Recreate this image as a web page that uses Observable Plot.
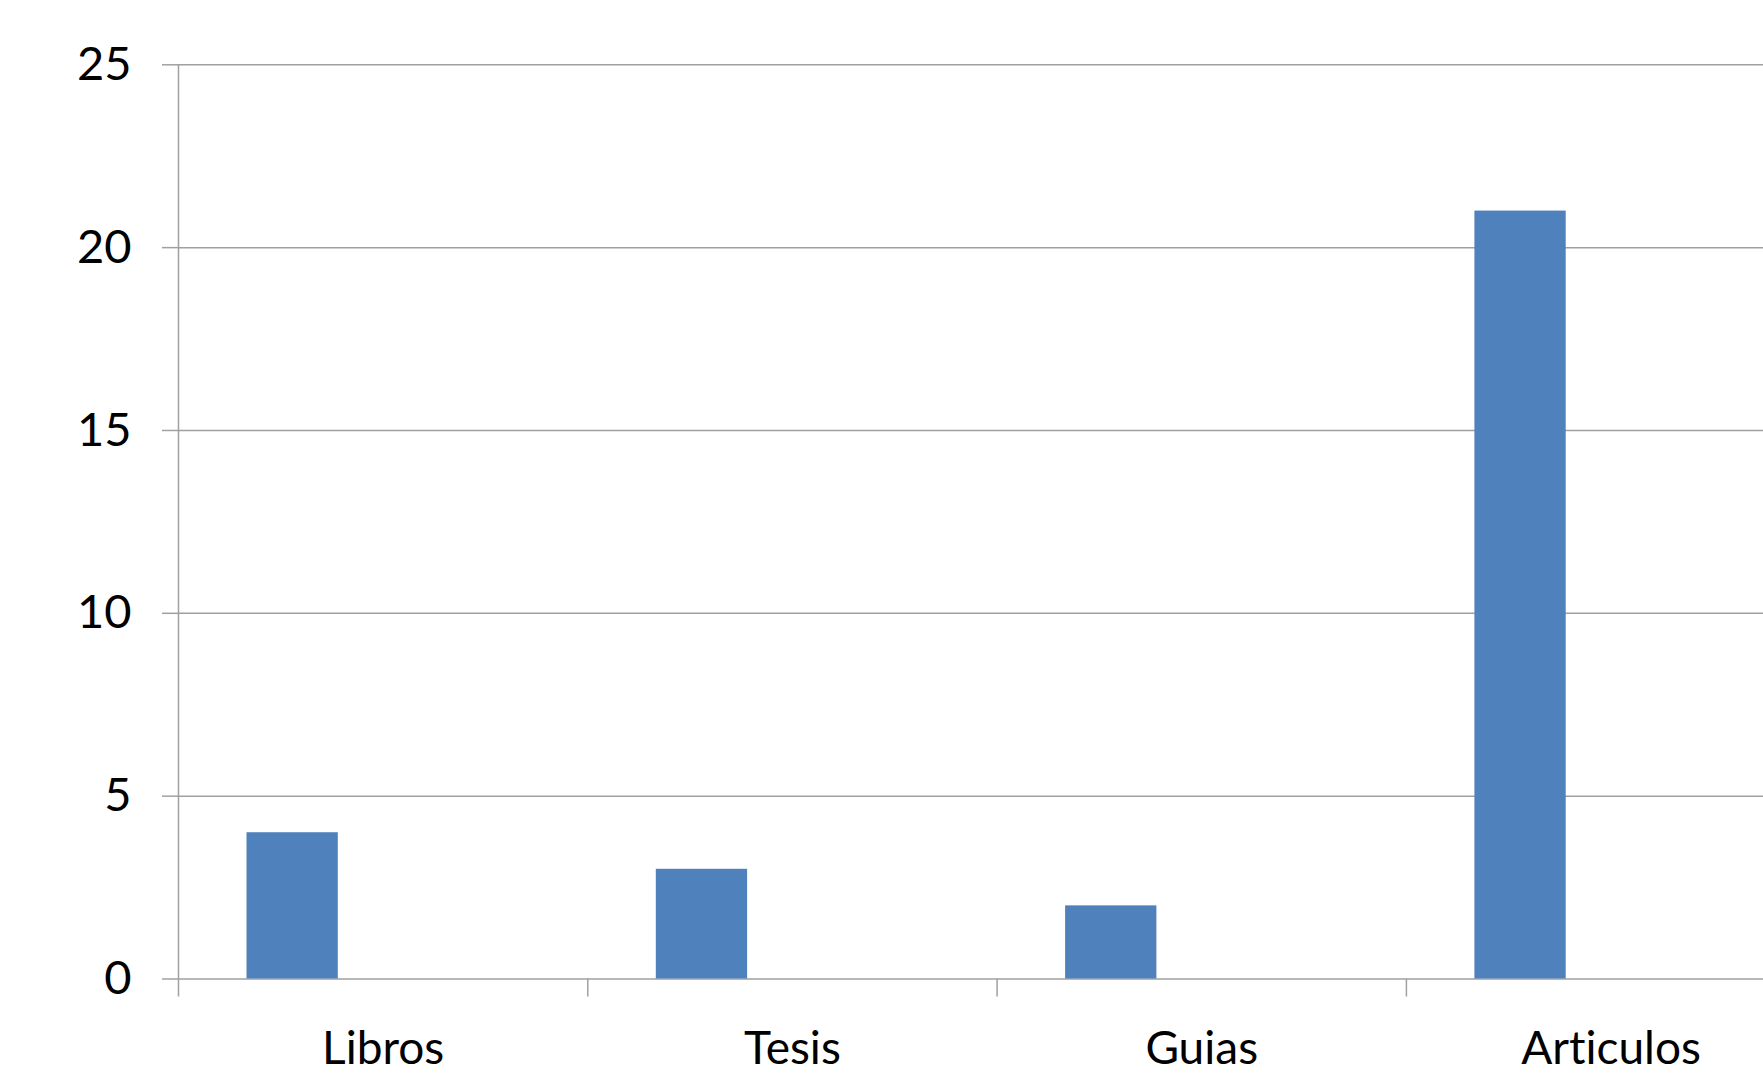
<!DOCTYPE html>
<html>
<head>
<meta charset="utf-8">
<script src="https://cdn.jsdelivr.net/npm/d3@7"></script>
<script src="https://cdn.jsdelivr.net/npm/@observablehq/plot@0.6"></script>
<style>
  html, body { margin: 0; padding: 0; background: #fff; overflow: hidden; width: 1763px; }
  #chart svg { display: block; overflow: hidden; font-variant-ligatures: none; }
  #chart svg text { font-variant-ligatures: none; font-feature-settings: "liga" 0, "clig" 0; }
</style>
</head>
<body>
<div id="chart"></div>
<script>
const categories = ["Libros", "Tesis", "Guias", "Articulos"];
const values = [4, 3, 2, 21];
const yTicks = [0, 5, 10, 15, 20, 25];

const data = categories.map((c, i) => ({category: c, value: values[i]}));

const W = 1763, H = 1076;
const left = 178, step = 409.3, barW = 91.3, barOffset = 68.5;
const right = left + step * categories.length;
const pad = 1 - barW / step;
const shift = barOffset + barW / 2 - step / 2;
const gray = "#a0a0a0";
const font = "Lato, 'Open Sans', sans-serif";

const chart = Plot.plot({
  width: W,
  height: H,
  marginLeft: left,
  marginRight: 0,
  marginTop: 64.3,
  marginBottom: H - 978.5,
  style: {fontFamily: font, fontSize: "46px", color: "#000", background: "#fff", overflow: "hidden"},
  x: {domain: categories, range: [left, right], paddingInner: pad, paddingOuter: pad / 2, round: false, label: null},
  y: {domain: [0, 25], range: [978.5, 64.3], label: null},
  marks: [
    Plot.gridY(yTicks, {stroke: gray, strokeOpacity: 1, strokeWidth: 1.5}),
    Plot.axisY(yTicks, {tickSize: 16, tickPadding: 31, stroke: gray, strokeWidth: 1.5, fill: "#000", fontSize: 47, label: null}),
    Plot.ruleX(categories.slice(0, 1), {x: d => d, dx: -step / 2, y1: 25, y2: 0, stroke: gray, strokeWidth: 1.5}),
    Plot.axisX({tickSize: 18, tickFormat: () => "", dx: -step / 2, stroke: gray, strokeWidth: 1.5, label: null}),
    Plot.barY(data, {x: "category", y: "value", fill: "#4f81bd", dx: shift}),
    Plot.axisX({tickSize: 0, tickPadding: 52, fill: "#000", fontSize: 46, label: null})
  ]
});
document.getElementById("chart").appendChild(chart);
</script>
</body>
</html>
